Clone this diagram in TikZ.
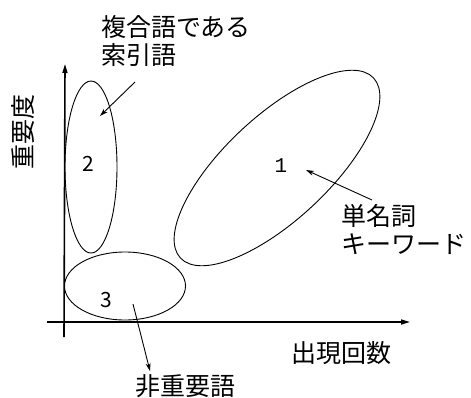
\documentclass[tikz,border=0pt]{standalone}
\usepackage{fontspec}
\setmainfont{Noto Sans CJK JP}
\newfontfamily\monofnt{Liberation Mono}
\usetikzlibrary{shapes.geometric,arrows.meta}
\begin{document}
\begin{tikzpicture}[x=1pt,y=-1pt,
  axis/.style={line width=1.6pt,-{Triangle[length=9pt,width=5pt]}},
  blob/.style={draw,ellipse,line width=0.9pt,inner sep=0pt},
  pointer/.style={line width=0.9pt,-{Stealth[length=8pt,width=5pt]}},
  jtext/.style={font=\fontsize{25}{28}\selectfont,align=left,inner sep=0pt},
  numtext/.style={font=\fontsize{21}{21}\selectfont,inner sep=0pt}]
\useasboundingbox (0,0) rectangle (471,397);
% axes
\coordinate (ybot) at (64,337);
\coordinate (ytop) at (65,64);
\coordinate (xleft) at (47,322);
\coordinate (xright) at (410,322);
\draw[axis] (ybot) -- (ytop);
\draw[axis] (xleft) -- (xright);
% ellipses
\node[blob,minimum width=52pt,minimum height=172pt] (e2) at (91,167) {};
\node[blob,minimum width=121pt,minimum height=68pt] (e3) at (125,286) {};
\node[blob,minimum width=264pt,minimum height=104pt,rotate=43] (e1) at (277,168) {};
% numbers
\node[numtext] (n2) at (88,164) {2};
\node[numtext] (n3) at (106,300) {3};
\node[numtext,font=\monofnt\fontsize{21}{21}\selectfont] (n1) at (281,166) {1};
% labels
\node[jtext,anchor=west] (t2) at (101,41) {複合語である\\索引語};
\node[jtext,anchor=west] (t1) at (341,230) {単名詞\\キーワード};
\node[jtext] (t3) at (185,386) {非重要語};
\node[jtext] (tx) at (341,353) {出現回数};
\node[jtext,rotate=90] (ty) at (23,132) {重要度};
% pointers
\coordinate (p2s) at (135,82);
\coordinate (p2e) at (100,116);
\coordinate (p1s) at (372,200);
\coordinate (p1e) at (306,170);
\coordinate (p3s) at (133,304);
\coordinate (p3e) at (150,371);
\draw[pointer] (p2s) -- (p2e);
\draw[pointer] (p1s) -- (p1e);
\draw[pointer] (p3s) -- (p3e);
\end{tikzpicture}
\end{document}
